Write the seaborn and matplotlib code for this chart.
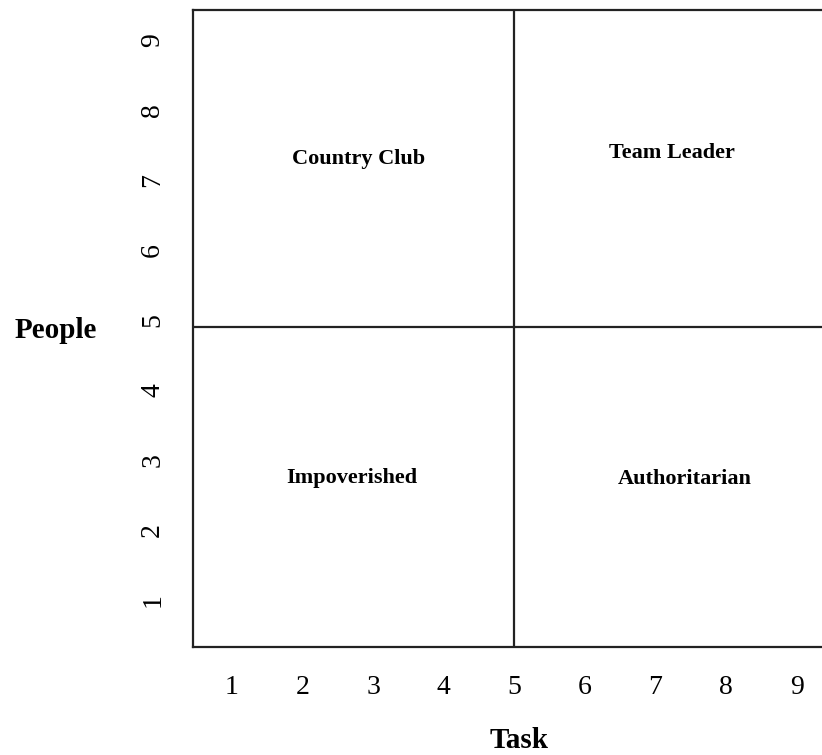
import matplotlib
matplotlib.use("Agg")
import matplotlib.pyplot as plt
import seaborn as sns

# Managerial grid: 1-9 scale on both axes, split into four styles
task_ticks = [1, 2, 3, 4, 5, 6, 7, 8, 9]
people_ticks = [1, 2, 3, 4, 5, 6, 7, 8, 9]
task_split = 5.0
people_split = 4.9

quadrant_names = ["Country Club", "Team Leader", "Impoverished", "Authoritarian"]
quadrant_x = [2.80, 7.23, 2.70, 7.42]
quadrant_y = [7.30, 7.38, 2.75, 2.73]

sns.set_theme(style="white")
plt.rcParams["font.family"] = ["Liberation Serif", "DejaVu Serif"]
plt.rcParams["text.color"] = "black"

fig = plt.figure(figsize=(8.22, 7.55), dpi=100)
ax = fig.add_axes([193 / 822, 1 - 647 / 755, 1 - 193 / 822, (647 - 10) / 755])

ax.set_xlim(0.448, 9.36)
ax.set_ylim(0.33, 9.43)

ax.axvline(task_split, color="#222222", linewidth=1.6)
ax.axhline(people_split, color="#222222", linewidth=1.6)

for name, qx, qy in zip(quadrant_names, quadrant_x, quadrant_y):
    ax.text(qx, qy, name, ha="center", va="center", fontsize=16,
            fontweight="bold", color="black")

ax.set_xticks(task_ticks)
ax.set_xticklabels([str(t) for t in task_ticks], fontsize=20, color="black")
ax.set_yticks(people_ticks)
ax.set_yticklabels([str(t) for t in people_ticks], fontsize=20, color="black",
                   rotation=90, va="center")
ax.tick_params(axis="x", length=0, pad=20)
ax.tick_params(axis="y", length=0, pad=20)

for side in ["left", "bottom", "top"]:
    ax.spines[side].set_color("#222222")
    ax.spines[side].set_linewidth(1.6)
ax.spines["right"].set_visible(False)

fig.text(56 / 822, 1 - 330 / 755, "People", ha="center", va="center",
         fontsize=21, fontweight="bold")
fig.text(519 / 822, 1 - 741 / 755, "Task", ha="center", va="center",
         fontsize=21, fontweight="bold")

fig.savefig("out.png", dpi=100)
plt.close(fig)
